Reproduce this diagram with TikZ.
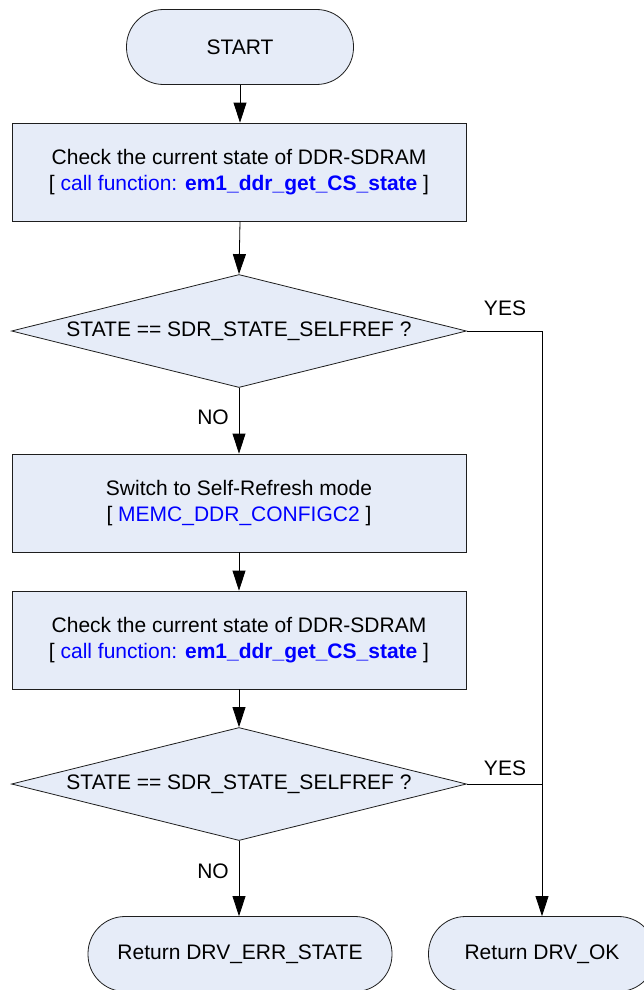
\documentclass[tikz,border=0pt]{standalone}
\usepackage{fontspec}
\setmainfont{Liberation Sans}
\usetikzlibrary{shapes.geometric,arrows.meta}
\definecolor{flowfill}{RGB}{230,236,248}
\definecolor{flowline}{RGB}{30,30,30}
\definecolor{fnblue}{RGB}{0,0,255}

\tikzset{
  base/.style={draw=flowline, line width=0.8pt, fill=flowfill,
    font=\fontsize{21}{26}\selectfont, align=center, inner sep=0pt},
  terminal/.style={base, rectangle, rounded corners=37pt,
    minimum width=227pt, minimum height=75pt},
  process/.style={base, rectangle, minimum width=454pt, minimum height=98pt},
  decision/.style={base, diamond, aspect=4, minimum width=455pt, minimum height=113pt},
  flow/.style={draw=black, line width=0.8pt, -{Triangle[length=20pt,width=13pt]}},
  plain/.style={draw=black, line width=0.8pt},
  lbl/.style={font=\fontsize{21}{26}\selectfont, inner sep=0pt}
}
\newcommand{\fnname}[1]{\textcolor{fnblue}{#1}}

\begin{document}
\begin{tikzpicture}[x=1pt, y=-1pt]
  \useasboundingbox (0,0) rectangle (644,990);

  \node[terminal] (start) at (240,47) {START};
  \node[process] (chk1) at (239,172)
    {Check the current state of DDR-SDRAM\\
     {[} \fnname{call function: \textbf{em1\_ddr\_get\_CS\_state}} ]};
  \node[decision] (dec1) at (239,331) {STATE == SDR\_STATE\_SELFREF ?};
  \node[process] (sw) at (239,503)
    {Switch to Self-Refresh mode\\
     {[} \fnname{MEMC\_DDR\_CONFIGC2} ]};
  \node[process] (chk2) at (239,640)
    {Check the current state of DDR-SDRAM\\
     {[} \fnname{call function: \textbf{em1\_ddr\_get\_CS\_state}} ]};
  \node[decision] (dec2) at (239,784) {STATE == SDR\_STATE\_SELFREF ?};
  \node[terminal, minimum width=304pt] (err) at (240,954) {Return DRV\_ERR\_STATE};
  \node[terminal] (ok) at (542,954) {Return DRV\_OK};

  % main downward flow
  \draw[flow] (start) -- (start |- chk1.north);
  \draw[flow] (start |- chk1.south) -- (dec1.north);
  \draw[flow] (dec1.south) -- (dec1.south |- sw.north);
  \draw[flow] (dec1.south |- sw.south) -- (dec1.south |- chk2.north);
  \draw[flow] (dec1.south |- chk2.south) -- (dec2.north);
  \draw[flow] (dec2.south) -- (dec2.south |- err.north);

  % YES branches join on the right and end at DRV_OK
  \draw[flow] (dec1.east) -- (dec1.east -| ok.north) -- (ok.north);
  \draw[plain] (dec2.east) -- (dec2.east -| ok.north);

  \node[lbl] (yes1) at (505,308) {YES};
  \node[lbl] (no1) at (213,417) {NO};
  \node[lbl] (yes2) at (505,768) {YES};
  \node[lbl] (no2) at (213,871) {NO};
\end{tikzpicture}
\end{document}
